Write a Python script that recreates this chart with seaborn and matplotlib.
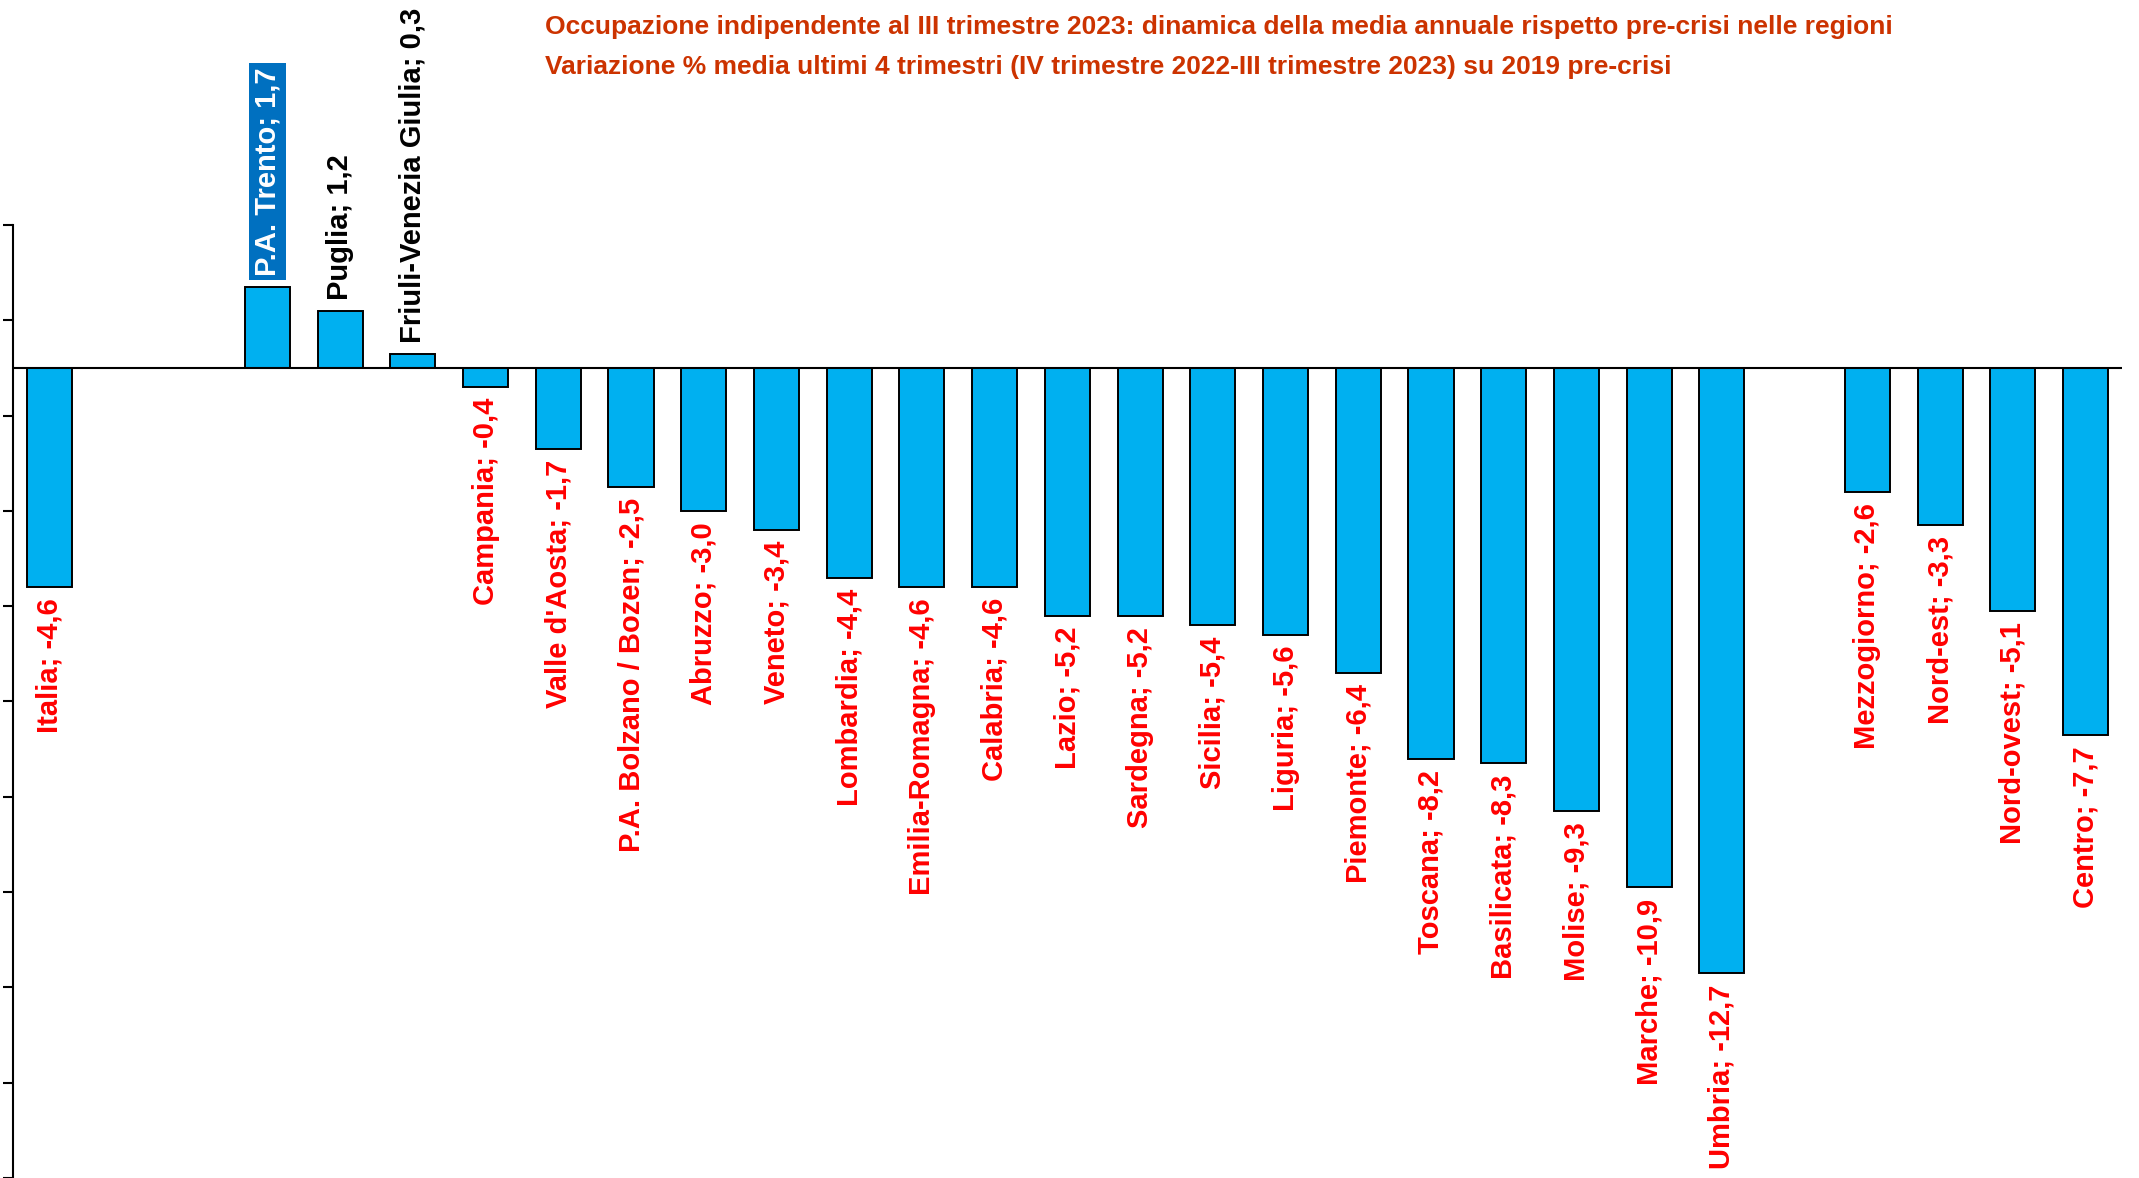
import matplotlib
matplotlib.use("Agg")
import matplotlib.pyplot as plt
import seaborn as sns
import pandas as pd
import numpy as np

regions = ["Italia", "P.A. Trento", "Puglia", "Friuli-Venezia Giulia", "Campania",
           "Valle d'Aosta", "P.A. Bolzano / Bozen", "Abruzzo", "Veneto", "Lombardia",
           "Emilia-Romagna", "Calabria", "Lazio", "Sardegna", "Sicilia", "Liguria",
           "Piemonte", "Toscana", "Basilicata", "Molise", "Marche", "Umbria",
           "Mezzogiorno", "Nord-est", "Nord-ovest", "Centro"]
values = [-4.6, 1.7, 1.2, 0.3, -0.4, -1.7, -2.5, -3.0, -3.4, -4.4, -4.6, -4.6,
          -5.2, -5.2, -5.4, -5.6, -6.4, -8.2, -8.3, -9.3, -10.9, -12.7,
          -2.6, -3.3, -5.1, -7.7]
# slot order with empty spacer slots as in the original chart
order = (["Italia", " ", "  "] + regions[1:22] + ["   "] + regions[22:])

title1 = "Occupazione indipendente al III trimestre 2023: dinamica della media annuale rispetto pre-crisi nelle regioni"
title2 = "Variazione % media ultimi 4 trimestri (IV trimestre 2022-III trimestre 2023) su 2019 pre-crisi"

sns.set_style("white")
plt.rcParams['font.family'] = ['Liberation Sans Narrow', 'Liberation Sans', 'DejaVu Sans']

df = pd.DataFrame({"regione": regions, "valore": values})

fig = plt.figure(figsize=(21.39, 11.78), dpi=100)
ax = fig.add_axes([0.006, 0.0, 0.986, 0.809])
sns.barplot(data=df, x="regione", y="valore", order=order, color="#00B0F0",
            saturation=1, width=0.62, edgecolor="black", linewidth=1.4, ax=ax)

ax.set_xlim(-0.5, len(order) - 0.5)
ax.set_ylim(-17, 3)
ax.axhline(0, color="black", lw=1.5, zorder=3)

for spine in ["top", "right", "bottom"]:
    ax.spines[spine].set_visible(False)
ax.spines["left"].set_color("black")
ax.spines["left"].set_linewidth(1.5)
ax.set_yticks(np.arange(3, -18, -2))
ax.set_yticklabels([])
ax.tick_params(axis="y", direction="out", length=7, width=1.5, color="black", left=True)
ax.set_xticks([])
ax.set_xlabel("")
ax.set_ylabel("")

for name, v in zip(regions, values):
    x = order.index(name)
    label = f"{name}; " + f"{v:.1f}".replace(".", ",")
    if v < 0:
        ax.annotate(label, (x, v), xytext=(0, -8), textcoords="offset points",
                    rotation=90, ha="center", va="top", color="#FF0000",
                    fontsize=21, fontweight="bold", annotation_clip=False)
    else:
        kw = {}
        color = "black"
        if name == "P.A. Trento":
            color = "white"
            kw["bbox"] = dict(boxstyle="square,pad=0.15", fc="#0070C0", ec="none")
        ax.annotate(label, (x, v), xytext=(0, 8), textcoords="offset points",
                    rotation=90, ha="center", va="bottom", color=color,
                    fontsize=21, fontweight="bold", annotation_clip=False, **kw)

fig.text(0.255, 0.977, title1, color="#CC3300", fontsize=19, fontweight="bold",
         ha="left", va="center")
fig.text(0.255, 0.943, title2, color="#CC3300", fontsize=19, fontweight="bold",
         ha="left", va="center")

fig.savefig("out.png", dpi=100)
